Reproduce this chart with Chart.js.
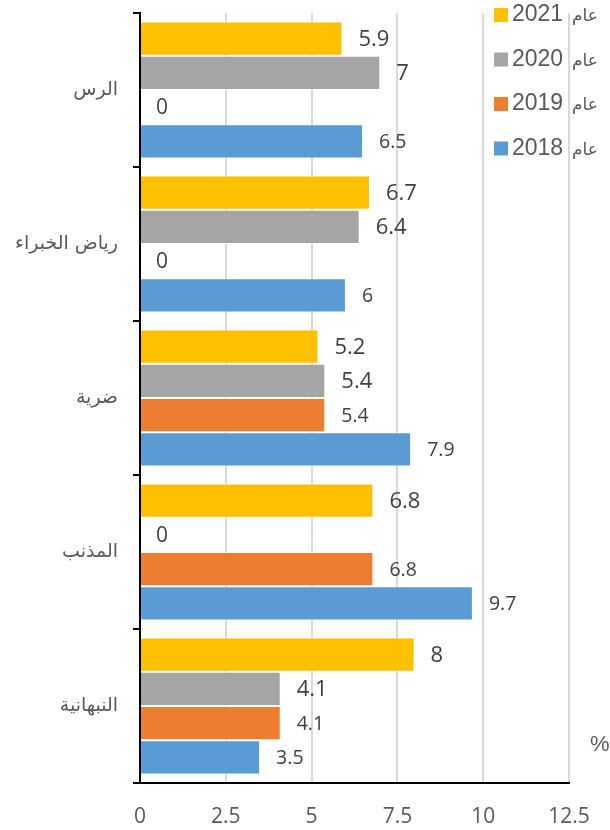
<!DOCTYPE html>
<html>
<head>
<meta charset="utf-8">
<script src="https://cdn.jsdelivr.net/npm/chart.js@4.4.0/dist/chart.umd.min.js"></script>
<style>
  html, body { margin: 0; padding: 0; background: #fff; }
  #wrap { width: 610px; height: 830px; position: relative; }
</style>
</head>
<body>
<div id="wrap"><canvas id="chart" width="610" height="830"></canvas></div>
<script>
// categories, top to bottom
const places = ['الرس', 'رياض الخبراء', 'ضرية', 'المذنب', 'النبهانية'];
const years = ['2021', '2020', '2019', '2018'];
const yearWord = 'عام';

const v2021 = [5.9, 6.7, 5.2, 6.8, 8];
const v2020 = [7, 6.4, 5.4, 0, 4.1];
const v2019 = [0, 0, 5.4, 6.8, 4.1];
const v2018 = [6.5, 6, 7.9, 9.7, 3.5];

const xTicks = [0, 2.5, 5, 7.5, 10, 12.5];

const colors = ['#FFC000', '#A5A5A5', '#ED7D31', '#5B9BD5'];
const labelSizes = [22, 22, 19.5, 19.5];

const series = [v2021, v2020, v2019, v2018];

// value labels right of each bar
const valueLabels = {
  id: 'valueLabels',
  afterDatasetsDraw(chart) {
    const ctx = chart.ctx;
    ctx.save();
    ctx.fillStyle = '#404040';
    ctx.textAlign = 'left';
    ctx.textBaseline = 'middle';
    chart.data.datasets.forEach((ds, i) => {
      const meta = chart.getDatasetMeta(i);
      meta.data.forEach((bar, j) => {
        // zero values print a little larger in the source
        const size = ds.data[j] === 0 ? 21 : labelSizes[i];
        ctx.font = size + 'px "Open Sans"';
        ctx.fillText(String(ds.data[j]), bar.x + 16, bar.y + 1);
      });
    });
    ctx.restore();
  }
};

// legend drawn over the plot, top right
const cornerLegend = {
  id: 'cornerLegend',
  afterDraw(chart) {
    const ctx = chart.ctx;
    ctx.save();
    years.forEach((y, i) => {
      const cy = 15 + i * 44.5;
      ctx.fillStyle = colors[i];
      ctx.fillRect(494, cy - 7, 14, 14);
      ctx.fillStyle = '#595959';
      ctx.textBaseline = 'middle';
      ctx.textAlign = 'left';
      ctx.font = '23px "Liberation Sans"';
      ctx.fillText(y, 512, cy);
      ctx.font = '17px "DejaVu Sans"';
      ctx.fillText(yearWord, 572, cy + 2);
    });
    ctx.font = '22px "Liberation Sans"';
    ctx.fillStyle = '#595959';
    ctx.fillText('%', 590, 745);
    ctx.restore();
  }
};

new Chart(document.getElementById('chart'), {
  type: 'bar',
  data: {
    labels: places,
    datasets: years.map((y, i) => ({
      label: yearWord + ' ' + y,
      data: series[i],
      backgroundColor: colors[i],
      borderColor: 'rgba(255,255,255,0.5)',
      borderWidth: 1,
      categoryPercentage: 0.89,
      barPercentage: 1
    }))
  },
  options: {
    indexAxis: 'y',
    responsive: false,
    animation: false,
    layout: { padding: { top: 13, right: 41, left: 0, bottom: 0 } },
    plugins: {
      legend: { display: false },
      tooltip: { enabled: false }
    },
    scales: {
      x: {
        min: 0,
        max: 12.5,
        afterBuildTicks(scale) {
          scale.ticks = xTicks.map(v => ({ value: v }));
        },
        afterFit(scale) {
          scale.height = 47;
          scale.paddingLeft = 0;
          scale.paddingRight = 0;
        },
        grid: { color: '#d9d9d9', lineWidth: 2, drawTicks: false },
        border: { display: true, color: '#000', width: 2 },
        ticks: {
          color: '#595959',
          padding: 21,
          font: { family: 'Open Sans', size: 21 }
        }
      },
      y: {
        afterFit(scale) {
          scale.width = 140;
          scale.paddingTop = 0;
          scale.paddingBottom = 0;
        },
        grid: { drawOnChartArea: false, drawTicks: true, tickLength: 7, color: '#000', lineWidth: 2, offset: true },
        border: { display: true, color: '#000', width: 2 },
        ticks: {
          color: '#595959',
          padding: 15,
          font: { family: 'DejaVu Sans', size: 19 }
        }
      }
    }
  },
  plugins: [valueLabels, cornerLegend]
});
</script>
</body>
</html>
